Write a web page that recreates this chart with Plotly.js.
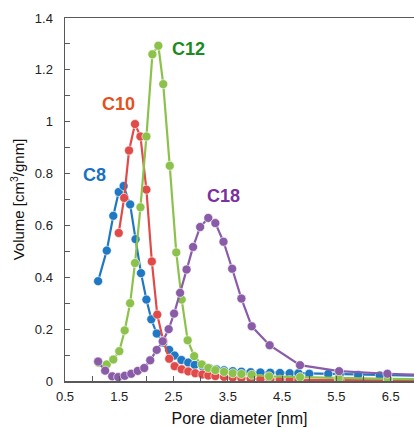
<!DOCTYPE html>
<html>
<head>
<meta charset="utf-8">
<script src="https://cdn.plot.ly/plotly-3.0.1.min.js"></script>
<style>html,body{margin:0;padding:0;background:#fff;}#chart{width:414px;height:428px;}</style>
</head>
<body>
<div id="chart"></div>
<script>
// Pore size distributions
const c8_x  = [1.11,1.27,1.39,1.49,1.58,1.70,1.80,1.90,2.00,2.09,2.19,2.31,2.42,2.52,2.645,2.77,2.89,3.04,3.16,3.29,3.43,3.59,3.75,3.92,4.10,4.28,4.46,4.64,4.80,5.00,5.35,5.56,5.90,6.30,7.50];
const c8_y  = [0.385,0.503,0.637,0.729,0.752,0.681,0.547,0.416,0.314,0.238,0.183,0.148,0.120,0.098,0.081,0.071,0.062,0.055,0.049,0.045,0.041,0.038,0.036,0.034,0.033,0.032,0.031,0.030,0.030,0.028,0.027,0.025,0.023,0.021,0.018];

const c10_x = [1.49,1.59,1.68,1.79,1.89,2.00,2.10,2.20,2.31,2.42,2.52,2.65,2.77,2.90,3.03,3.14,3.27,3.43,3.59,3.75,3.92,4.10,4.28,4.46,4.64,4.80,5.56,6.45,7.50];
const c10_y = [0.571,0.706,0.889,0.991,0.943,0.738,0.461,0.256,0.155,0.086,0.057,0.045,0.037,0.030,0.025,0.021,0.019,0.016,0.013,0.011,0.009,0.007,0.006,0.005,0.004,0.004,0.003,0.002,0.002];

const c12_x = [1.12,1.27,1.39,1.50,1.60,1.70,1.79,1.89,2.00,2.11,2.22,2.31,2.43,2.55,2.65,2.76,2.88,3.02,3.14,3.27,3.43,3.59,3.75,3.94,4.26,4.83,5.54,6.45,7.50];
const c12_y = [0.070,0.064,0.083,0.115,0.195,0.300,0.455,0.670,0.943,1.260,1.293,1.145,0.830,0.496,0.314,0.157,0.096,0.064,0.050,0.042,0.035,0.030,0.027,0.024,0.018,0.015,0.011,0.008,0.006];

const c18_x = [1.11,1.24,1.37,1.48,1.60,1.72,1.84,1.96,2.07,2.19,2.30,2.41,2.51,2.62,2.74,2.86,2.99,3.14,3.27,3.42,3.58,3.75,3.94,4.27,4.83,5.55,6.44,7.50];
const c18_y = [0.075,0.040,0.018,0.015,0.020,0.028,0.039,0.050,0.080,0.120,0.153,0.200,0.260,0.340,0.430,0.517,0.594,0.629,0.609,0.537,0.433,0.318,0.211,0.138,0.061,0.038,0.028,0.020];

const seriesNames = ['C8','C10','C12','C18'];
const lineColors  = ['#1f78c1','#e04a48','#8cc24c','#8a5ca8'];
const labelColors = ['#1a70c0','#e5501c','#1a8a22','#7a30a0'];
const labelX = [1.05, 1.48, 2.78, 3.42];
const labelY = [0.795, 1.07, 1.28, 0.715];

const xs = [c8_x, c10_x, c12_x, c18_x];
const ys = [c8_y, c10_y, c12_y, c18_y];
const order = [0,1,2,3];

const traces = order.map(i => ({
  x: xs[i], y: ys[i], type: 'scatter', mode: 'lines+markers', name: seriesNames[i],
  line: {color: lineColors[i], width: 2.2},
  marker: {color: lineColors[i], size: 9, line: {color: '#ffffff', width: 0.6}},
  cliponaxis: true, hoverinfo: 'skip'
}));

const annotations = seriesNames.map((n, i) => ({
  x: labelX[i], y: labelY[i], xref: 'x', yref: 'y', text: n, showarrow: false,
  font: {family: 'Liberation Sans, Arial, sans-serif', size: 18, color: labelColors[i], weight: 'bold'},
  xanchor: 'center', yanchor: 'middle'
}));

const axisColor = '#595959';
const layout = {
  width: 414, height: 428,
  margin: {l: 65, r: 0, t: 18, b: 47},
  paper_bgcolor: '#ffffff', plot_bgcolor: '#ffffff',
  showlegend: false,
  font: {family: 'Liberation Sans, Arial, sans-serif', size: 13, color: '#222'},
  xaxis: {
    range: [0.5, 6.93], tick0: 0.5, dtick: 1, ticks: 'inside', ticklen: 5, tickwidth: 1, tickcolor: axisColor,
    minor: {dtick: 0.5, ticks: 'inside', ticklen: 5, tickwidth: 1, tickcolor: axisColor, showgrid: false},
    showline: true, linecolor: axisColor, linewidth: 1.5, mirror: true,
    showgrid: false, zeroline: false, ticklabelstandoff: 3,
    tickfont: {size: 13, color: '#222'},
    title: {text: 'Pore diameter [nm]', font: {size: 16, color: '#111'}, standoff: 9}
  },
  yaxis: {
    range: [0, 1.4], dtick: 0.2, ticks: 'inside', ticklen: 5, tickwidth: 1, tickcolor: axisColor,
    minor: {dtick: 0.1, ticks: 'inside', ticklen: 5, tickwidth: 1, tickcolor: axisColor, showgrid: false},
    showline: true, linecolor: axisColor, linewidth: 1.5, mirror: false,
    showgrid: false, zeroline: false, ticklabelstandoff: 8,
    tickfont: {size: 13, color: '#222'},
    title: {text: 'Volume [cm<sup>3</sup>/gnm]', font: {size: 15, color: '#111'}, standoff: 6}
  },
  annotations: annotations
};

Plotly.newPlot('chart', traces, layout, {staticPlot: true, displayModeBar: false});
</script>
</body>
</html>
